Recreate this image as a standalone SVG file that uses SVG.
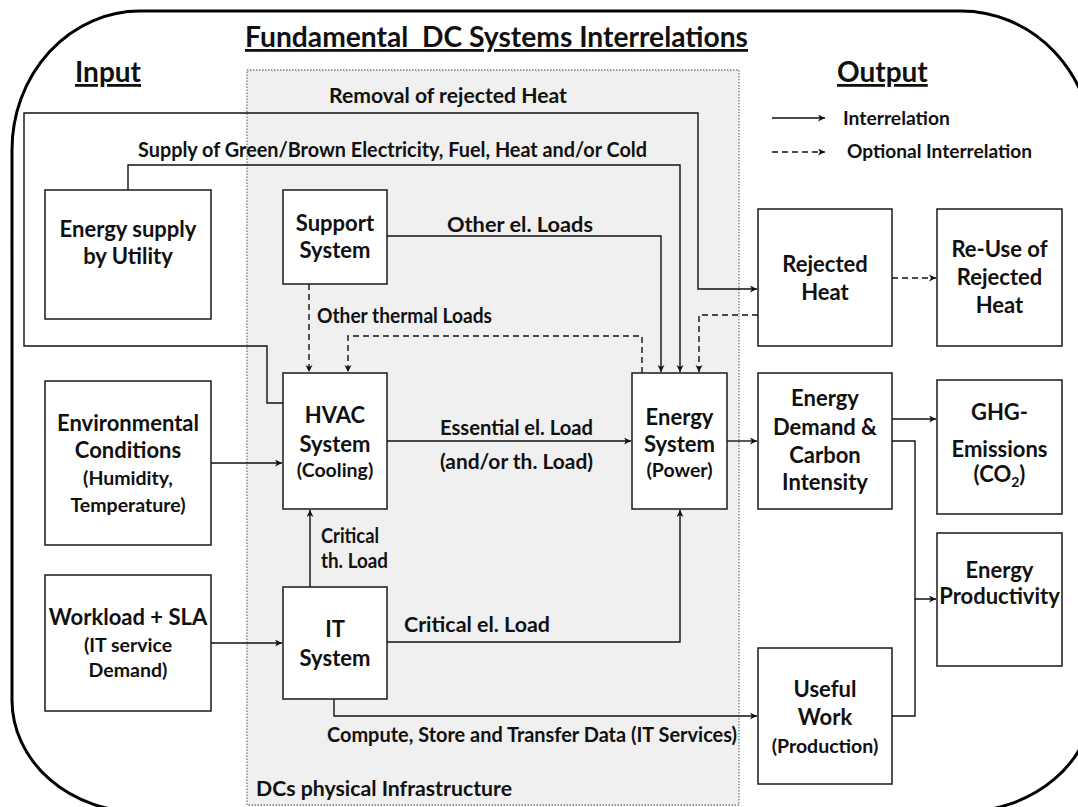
<svg xmlns="http://www.w3.org/2000/svg" width="1078" height="807" viewBox="0 0 1078 807">
<style>
text{font-family:Lato,"Liberation Sans",sans-serif;font-weight:bold;fill:#111}
.h{font-size:28px;text-decoration:underline;white-space:pre}
.n{font-size:22px;text-anchor:middle}
.p{font-size:19.5px;text-anchor:middle}
.l{font-size:20px}
.lg{font-size:19px}
.box{fill:#fff;stroke:#1a1a1a;stroke-width:1.5}
.c{fill:none;stroke:#111;stroke-width:1.4}
.a{marker-end:url(#ah)}
.d{stroke-dasharray:6 4}
</style>
<defs>
<marker id="ah" markerUnits="userSpaceOnUse" markerWidth="8" markerHeight="8" refX="7" refY="3.5" orient="auto">
<path d="M0,0 L7,3.5 L0,7 L2,3.5 Z" fill="#111"/>
</marker>
</defs>
<rect width="1078" height="807" fill="#fff"/>
<path id="frame" d="M140,11 H961 A132,139 0 0 1 1093,150 V700 A132,112 0 0 1 961,812 H140 A128,112 0 0 1 12,700 V150 A128,139 0 0 1 140,11 Z" fill="none" stroke="#000" stroke-width="3"/>
<g id="infrastructure">
<rect x="247" y="70" width="492" height="735" fill="#eff0ef" stroke="#777" stroke-width="1.3" stroke-dasharray="1.5 1.5"/>
<text class="l" x="256" y="796" style="font-size:21px" textLength="256" lengthAdjust="spacingAndGlyphs">DCs physical Infrastructure</text>
</g>
<g id="headings">
<text class="h" x="245" y="47" textLength="503" lengthAdjust="spacingAndGlyphs" xml:space="preserve">Fundamental  DC Systems Interrelations</text>
<text class="h" x="75" y="82">Input</text>
<text class="h" x="837" y="82">Output</text>
</g>
<g id="legend">
<line class="c a" x1="772" y1="118" x2="825" y2="118"/>
<text class="lg" x="843" y="125" textLength="107" lengthAdjust="spacingAndGlyphs">Interrelation</text>
<line class="c a d" x1="772" y1="152" x2="825" y2="152"/>
<text class="lg" x="847" y="158" textLength="185" lengthAdjust="spacingAndGlyphs">Optional Interrelation</text>
</g>
<g id="connectors">
<path class="c a" d="M283,403 H267 V346 H24 V113 H698 V289 H757"/>
<path class="c a" d="M128,190 V165 H680 V372"/>
<path class="c a" d="M387,236 H661 V372"/>
<path class="c a d" d="M309,284 V372"/>
<path class="c a d" d="M642,373 V336 H348 V372"/>
<path class="c a d" d="M758,315 H699 V372"/>
<path class="c a d" d="M892,278 H936"/>
<path class="c a" d="M211,463 H282"/>
<path class="c a" d="M387,441 H631"/>
<path class="c a" d="M727,441 H757"/>
<path class="c a" d="M892,419 H936"/>
<path class="c a" d="M892,441 H915 V599 H936"/>
<path class="c" d="M892,716 H915 V599"/>
<path class="c a" d="M211,643 H282"/>
<path class="c a" d="M310,587 V510"/>
<path class="c a" d="M387,642 H680 V510"/>
<path class="c a" d="M334,699 V716 H757"/>
<text class="l" x="329" y="103" textLength="238" lengthAdjust="spacingAndGlyphs">Removal of rejected Heat</text>
<text class="l" x="138" y="157" textLength="509" lengthAdjust="spacingAndGlyphs">Supply of Green/Brown Electricity, Fuel, Heat and/or Cold</text>
<text class="l" x="447" y="232" textLength="146" lengthAdjust="spacingAndGlyphs">Other el. Loads</text>
<text class="l" x="317" y="323" textLength="175" lengthAdjust="spacingAndGlyphs">Other thermal Loads</text>
<text class="l" x="440" y="435" textLength="153" lengthAdjust="spacingAndGlyphs">Essential el. Load</text>
<text class="l" x="440" y="469" textLength="153" lengthAdjust="spacingAndGlyphs">(and/or th. Load)</text>
<text class="l" x="321" y="543" textLength="58" lengthAdjust="spacingAndGlyphs">Critical</text>
<text class="l" x="321" y="568" textLength="67" lengthAdjust="spacingAndGlyphs">th. Load</text>
<text class="l" x="404" y="632" textLength="146" lengthAdjust="spacingAndGlyphs">Critical el. Load</text>
<text class="l" x="327" y="742" textLength="410" lengthAdjust="spacingAndGlyphs">Compute, Store and Transfer Data (IT Services)</text>
</g>
<g id="energy-supply">
<rect class="box" x="45" y="190" width="166" height="129"/>
<text class="n" x="128" y="237">Energy supply</text>
<text class="n" x="128" y="264">by Utility</text>
</g>
<g id="support-system">
<rect class="box" x="283" y="190" width="104" height="94"/>
<text class="n" x="335" y="231">Support</text>
<text class="n" x="335" y="258">System</text>
</g>
<g id="environmental">
<rect class="box" x="45" y="381" width="166" height="164"/>
<text class="n" x="128" y="431">Environmental</text>
<text class="n" x="128" y="458">Conditions</text>
<text class="p" x="128" y="485">(Humidity,</text>
<text class="p" x="128" y="512">Temperature)</text>
</g>
<g id="workload">
<rect class="box" x="45" y="575" width="166" height="136"/>
<text class="n" x="128" y="625">Workload + SLA</text>
<text class="p" x="128" y="652">(IT service</text>
<text class="p" x="128" y="677">Demand)</text>
</g>
<g id="hvac">
<rect class="box" x="283" y="373" width="104" height="136"/>
<text class="n" x="335" y="423">HVAC</text>
<text class="n" x="335" y="452">System</text>
<text class="p" x="335" y="477">(Cooling)</text>
</g>
<g id="it-system">
<rect class="box" x="283" y="587" width="104" height="112"/>
<text class="n" x="335" y="637">IT</text>
<text class="n" x="335" y="666">System</text>
</g>
<g id="energy-system">
<rect class="box" x="632" y="373" width="95" height="136"/>
<text class="n" x="679.5" y="425">Energy</text>
<text class="n" x="679.5" y="452">System</text>
<text class="p" x="679.5" y="477">(Power)</text>
</g>
<g id="rejected-heat">
<rect class="box" x="758" y="209" width="134" height="137"/>
<text class="n" x="825" y="272">Rejected</text>
<text class="n" x="825" y="300">Heat</text>
</g>
<g id="reuse">
<rect class="box" x="937" y="209" width="125" height="137"/>
<text class="n" x="999.5" y="257">Re-Use of</text>
<text class="n" x="999.5" y="285">Rejected</text>
<text class="n" x="999.5" y="313">Heat</text>
</g>
<g id="energy-demand">
<rect class="box" x="758" y="373" width="134" height="136"/>
<text class="n" x="825" y="406">Energy</text>
<text class="n" x="825" y="435">Demand &amp;</text>
<text class="n" x="825" y="463">Carbon</text>
<text class="n" x="825" y="490">Intensity</text>
</g>
<g id="ghg">
<rect class="box" x="937" y="380" width="125" height="134"/>
<text class="n" x="999.5" y="420">GHG-</text>
<text class="n" x="999.5" y="457">Emissions</text>
<text class="n" x="999.5" y="482">(CO<tspan dy="5" style="font-size:14px">2</tspan><tspan dy="-5">)</tspan></text>
</g>
<g id="energy-productivity">
<rect class="box" x="937" y="533" width="125" height="133"/>
<text class="n" x="999.5" y="578">Energy</text>
<text class="n" x="999.5" y="604">Productivity</text>
</g>
<g id="useful-work">
<rect class="box" x="758" y="648" width="134" height="136"/>
<text class="n" x="825" y="697">Useful</text>
<text class="n" x="825" y="725">Work</text>
<text class="p" x="825" y="753">(Production)</text>
</g>
</svg>
